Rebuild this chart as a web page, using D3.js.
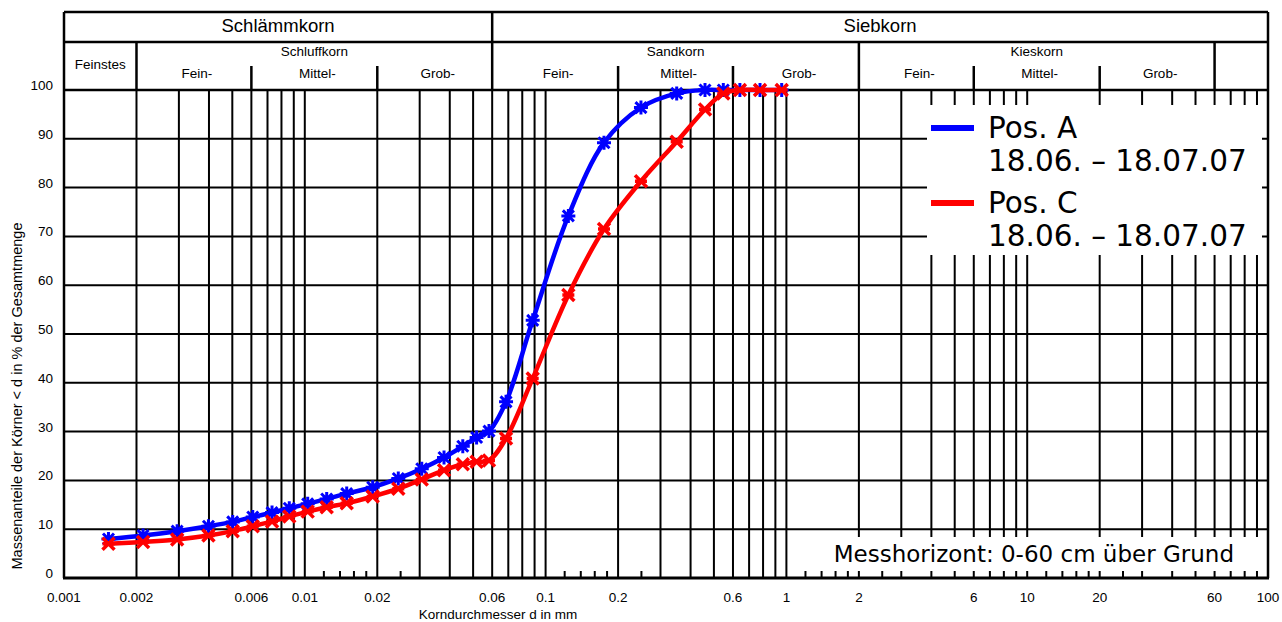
<!DOCTYPE html>
<html>
<head>
<meta charset="utf-8">
<script src="https://cdn.jsdelivr.net/npm/d3@7"></script>
<style>
  body { margin: 0; background: #fff; }
  svg text { font-family: "Liberation Sans", Arial, sans-serif; fill: #000; }
</style>
</head>
<body>
<div id="chart"></div>
<script>
// Korndurchmesser (mm) of the measured points
const diameters = [0.00153, 0.00213, 0.00295, 0.00398, 0.00502, 0.00608, 0.00731, 0.00862,
                   0.01028, 0.01233, 0.01493, 0.01914, 0.02445, 0.0306, 0.03786, 0.0453,
                   0.0517, 0.0582, 0.0685, 0.0884, 0.1243, 0.1748, 0.2489, 0.3503, 0.4592,
                   0.547, 0.641, 0.777, 0.956];
// Massenanteile < d in %
const posA = [8.0, 8.7, 9.6, 10.6, 11.5, 12.5, 13.4, 14.3, 15.2, 16.2, 17.3, 18.6, 20.4,
              22.4, 24.7, 27.0, 28.8, 30.1, 36.1, 52.8, 74.2, 89.2, 96.4, 99.3, 100, 100,
              100, 100, 100];
const posC = [7.0, 7.4, 7.9, 8.7, 9.6, 10.6, 11.6, 12.6, 13.6, 14.5, 15.3, 16.7, 18.3,
              20.2, 22.1, 23.3, 23.8, 24.1, 28.6, 40.9, 58.0, 71.5, 81.3, 89.4, 96.0, 99.3,
              100, 100, 100];
const seriesNames = ["Pos. A", "Pos. C"];
const seriesDates = ["18.06. \u2013 18.07.07", "18.06. \u2013 18.07.07"];

const xTickValues = [0.001, 0.002, 0.006, 0.01, 0.02, 0.06, 0.1, 0.2, 0.6, 1, 2, 6, 10, 20, 60, 100];
const xTickLabels = ["0.001", "0.002", "0.006", "0.01", "0.02", "0.06", "0.1", "0.2", "0.6",
                     "1", "2", "6", "10", "20", "60", "100"];
const yTickValues = [0, 10, 20, 30, 40, 50, 60, 70, 80, 90, 100];
const decades = [0.001, 0.01, 0.1, 1, 10];
const gridMultipliers = [2, 3, 4, 5, 6, 7, 8, 9];
const minorMultipliers = [1.2, 1.4, 1.6, 1.8, 2.5];
const minorDecades = [0.01, 0.1, 1, 10];

// Kornfraktionen for the header
const headerTop = [
  { label: "Schlämmkorn", from: 0.001, to: 0.06 },
  { label: "Siebkorn", from: 0.06, to: 100 }
];
const headerMid = [
  { label: "Schluffkorn", from: 0.002, to: 0.06 },
  { label: "Sandkorn", from: 0.06, to: 2 },
  { label: "Kieskorn", from: 2, to: 60 },
  { label: "", from: 60, to: 100 }
];
const headerSub = [
  { label: "Fein-", from: 0.002, to: 0.006 },
  { label: "Mittel-", from: 0.006, to: 0.02 },
  { label: "Grob-", from: 0.02, to: 0.06 },
  { label: "Fein-", from: 0.06, to: 0.2 },
  { label: "Mittel-", from: 0.2, to: 0.6 },
  { label: "Grob-", from: 0.6, to: 2 },
  { label: "Fein-", from: 2, to: 6 },
  { label: "Mittel-", from: 6, to: 20 },
  { label: "Grob-", from: 20, to: 60 }
];

width  = 1282;
height = 622;
left   = 64;
right  = 1268;
plotTop    = 90;
plotBottom = 578;
headTop    = 12;
headMid    = 42;
headSub    = 66;
lineWidth  = 2;
frameWidth = 2.5;

x = d3.scaleLog().domain([0.001, 100]).range([left, right]);
y = d3.scaleLinear().domain([0, 100]).range([plotBottom, plotTop]);

svg = d3.select("#chart").append("svg")
    .attr("width", width)
    .attr("height", height);

// vertical grid lines (2..9 in each decade)
gridValues = [];
decades.forEach(function(d) {
  gridMultipliers.forEach(function(m) { gridValues.push(d * m); });
});
gridValues = gridValues.concat([0.01, 0.1, 1, 10]);

svg.append("g").selectAll("line")
  .data(gridValues)
  .enter().append("line")
  .attr("x1", d => x(d)).attr("x2", d => x(d))
  .attr("y1", plotTop).attr("y2", plotBottom)
  .style("stroke", "#000").style("stroke-width", lineWidth);

// horizontal grid lines
svg.append("g").selectAll("line")
  .data(yTickValues.filter(v => v > 0))
  .enter().append("line")
  .attr("x1", left).attr("x2", right)
  .attr("y1", d => y(d)).attr("y2", d => y(d))
  .style("stroke", "#000").style("stroke-width", lineWidth);

// white boxes for legend and note (they hide the grid)
svg.append("rect")
  .attr("x", 927).attr("y", 105)
  .attr("width", 335).attr("height", 150)
  .style("fill", "#fff");
svg.append("rect")
  .attr("x", 790).attr("y", 537)
  .attr("width", 473).attr("height", 34)
  .style("fill", "#fff");

// small minor ticks on the bottom axis
minorValues = [];
minorDecades.forEach(function(d) {
  minorMultipliers.forEach(function(m) { minorValues.push(d * m); });
});
svg.append("g").selectAll("line")
  .data(minorValues)
  .enter().append("line")
  .attr("x1", d => x(d)).attr("x2", d => x(d))
  .attr("y1", plotBottom - 7).attr("y2", plotBottom)
  .style("stroke", "#000").style("stroke-width", lineWidth);

// frame
svg.append("line")
  .attr("x1", left).attr("x2", left).attr("y1", headTop).attr("y2", plotBottom)
  .style("stroke", "#000").style("stroke-width", frameWidth);
svg.append("line")
  .attr("x1", right).attr("x2", right).attr("y1", headTop).attr("y2", plotBottom)
  .style("stroke", "#000").style("stroke-width", frameWidth);
svg.append("line")
  .attr("x1", left - 1).attr("x2", right + 1).attr("y1", plotBottom).attr("y2", plotBottom)
  .style("stroke", "#000").style("stroke-width", 3);
svg.append("line")
  .attr("x1", left).attr("x2", right).attr("y1", plotTop).attr("y2", plotTop)
  .style("stroke", "#000").style("stroke-width", frameWidth);
svg.append("line")
  .attr("x1", left).attr("x2", right).attr("y1", headTop).attr("y2", headTop)
  .style("stroke", "#000").style("stroke-width", frameWidth);
svg.append("line")
  .attr("x1", left).attr("x2", right).attr("y1", headMid).attr("y2", headMid)
  .style("stroke", "#000").style("stroke-width", frameWidth);

// header: top row
header = svg.append("g");
header.selectAll(".top")
  .data(headerTop)
  .enter().append("text")
  .attr("x", d => (x(d.from) + x(d.to)) / 2)
  .attr("y", 32)
  .attr("text-anchor", "middle")
  .style("font-size", "18.5px")
  .text(d => d.label);
header.append("line")
  .attr("x1", x(0.06)).attr("x2", x(0.06)).attr("y1", headTop).attr("y2", plotTop)
  .style("stroke", "#000").style("stroke-width", frameWidth);

// header: middle row
header.selectAll(".midline")
  .data([0.002, 2, 60])
  .enter().append("line")
  .attr("x1", d => x(d)).attr("x2", d => x(d))
  .attr("y1", headMid).attr("y2", plotTop)
  .style("stroke", "#000").style("stroke-width", frameWidth);
header.selectAll(".mid")
  .data(headerMid)
  .enter().append("text")
  .attr("x", d => (x(d.from) + x(d.to)) / 2)
  .attr("y", 56)
  .attr("text-anchor", "middle")
  .style("font-size", "13.5px")
  .text(d => d.label);
header.append("text")
  .attr("x", (x(0.001) + x(0.002)) / 2)
  .attr("y", 69)
  .attr("text-anchor", "middle")
  .style("font-size", "13.5px")
  .text("Feinstes");

// header: sub row
header.selectAll(".subline")
  .data([0.006, 0.02, 0.2, 0.6, 6, 20])
  .enter().append("line")
  .attr("x1", d => x(d)).attr("x2", d => x(d))
  .attr("y1", headSub).attr("y2", plotTop)
  .style("stroke", "#000").style("stroke-width", frameWidth);
header.selectAll(".sub")
  .data(headerSub)
  .enter().append("text")
  .attr("x", d => (x(d.from) + x(d.to)) / 2 + 3)
  .attr("y", 78)
  .attr("text-anchor", "middle")
  .style("font-size", "13.5px")
  .text(d => d.label);

// axis labels
svg.append("g").selectAll("text")
  .data(yTickValues)
  .enter().append("text")
  .attr("x", 53)
  .attr("y", d => y(d))
  .attr("text-anchor", "end")
  .style("font-size", "13.5px")
  .text(d => d);

svg.append("g").selectAll("text")
  .data(xTickValues)
  .enter().append("text")
  .attr("x", d => x(d))
  .attr("y", 602)
  .attr("text-anchor", "middle")
  .style("font-size", "13.5px")
  .text((d, i) => xTickLabels[i]);

svg.append("text")
  .attr("x", 498).attr("y", 619)
  .attr("text-anchor", "middle")
  .style("font-size", "13.5px")
  .text("Korndurchmesser d in mm");

svg.append("text")
  .attr("transform", "translate(22,396) rotate(-90)")
  .attr("text-anchor", "middle")
  .style("font-size", "14.5px")
  .text("Massenanteile der Körner < d in % der Gesamtmenge");

// curves
line = d3.line()
  .x(d => x(d[0]))
  .y(d => y(d[1]))
  .curve(d3.curveCatmullRom.alpha(0.5));

function drawSeries(values, color, marker, markerWidth) {
  var pts = diameters.map((d, i) => [d, values[i]]);
  svg.append("path")
    .datum(pts)
    .attr("d", line)
    .style("fill", "none")
    .style("stroke", color)
    .style("stroke-width", 4.5)
    .style("stroke-linejoin", "round");
  svg.append("g").selectAll("path")
    .data(pts)
    .enter().append("path")
    .attr("transform", d => "translate(" + x(d[0]) + "," + y(d[1]) + ")")
    .attr("d", marker)
    .style("fill", "none")
    .style("stroke", color)
    .style("stroke-width", markerWidth);
}
drawSeries(posA, "#0000ff", "M-5.5,-5.5L5.5,5.5M-5.5,5.5L5.5,-5.5M0,-7L0,7M-7,0L7,0", 3);
drawSeries(posC, "#ff0000", "M-6,-6L6,6M-6,6L6,-6M-6,0L6,0", 3.5);

// legend
legend = svg.append("g");
[["#0000ff", 128], ["#ff0000", 203]].forEach(function(s, i) {
  legend.append("line")
    .attr("x1", 931).attr("x2", 974)
    .attr("y1", s[1]).attr("y2", s[1])
    .style("stroke", s[0]).style("stroke-width", 6);
  legend.append("text")
    .attr("x", 988).attr("y", s[1] + 10)
    .style("font-family", "'DejaVu Sans', Verdana, sans-serif")
    .style("font-size", "29.5px")
    .text(seriesNames[i]);
  legend.append("text")
    .attr("x", 988).attr("y", s[1] + 43)
    .style("font-family", "'DejaVu Sans', Verdana, sans-serif")
    .style("font-size", "29.5px")
    .text(seriesDates[i]);
});

svg.append("text")
  .attr("x", 1234).attr("y", 562)
  .attr("text-anchor", "end")
  .style("font-family", "'DejaVu Sans', Verdana, sans-serif")
  .style("font-size", "23px")
  .text("Messhorizont: 0-60 cm über Grund");
</script>
</body>
</html>
